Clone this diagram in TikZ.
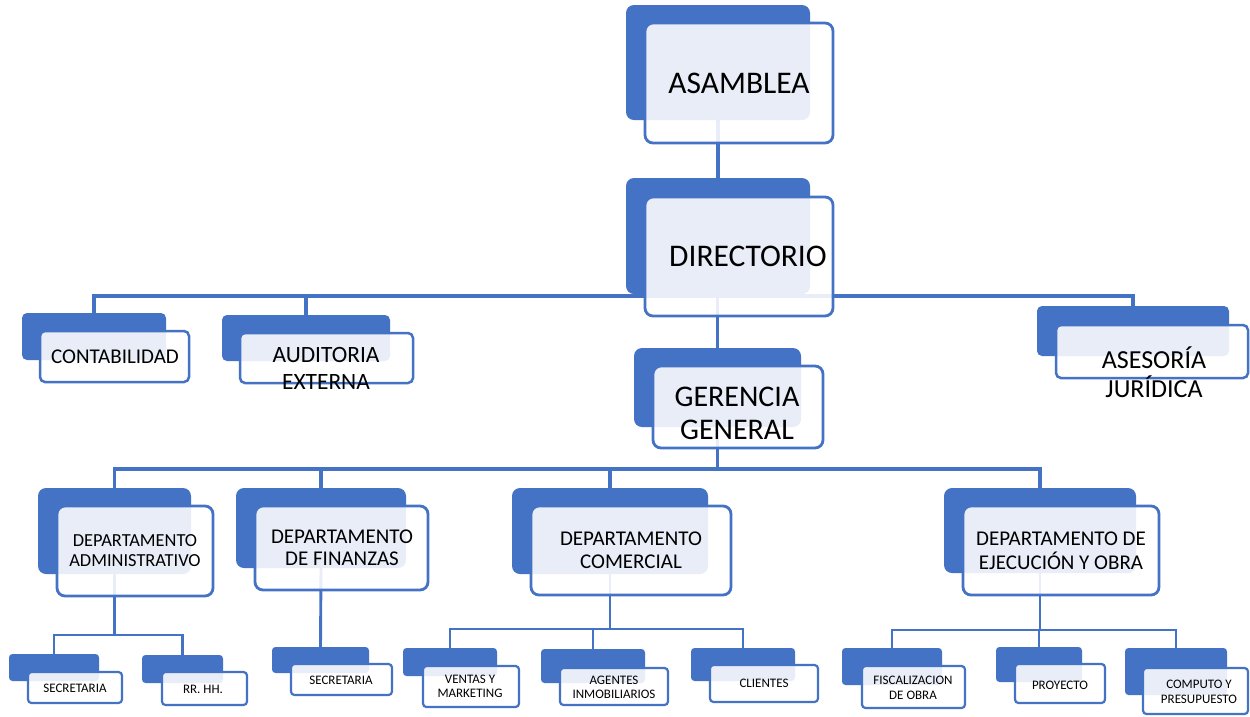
\documentclass[tikz,border=0pt]{standalone}
\usepackage{fontspec}
\setmainfont{Carlito}
\usetikzlibrary{fit,backgrounds}
\definecolor{obl}{HTML}{4472C4}
\newcommand\fs[2]{\fontsize{#1}{#2}\selectfont}
\newcommand\pair[6]{%
  \node[backbox,#6,fit={(#2) (#3)}] (#1b) {};
  \node[frontbox,#6,fit={(#4) (#5)}] (#1f) {};
}
\begin{document}
\begin{tikzpicture}[x=1pt,y=-1pt,
  backbox/.style={fill=obl,draw=none,inner sep=0pt,outer sep=0pt},
  frontbox/.style={fill=white,fill opacity=0.88,draw=obl,inner sep=0pt,outer sep=0pt},
  bigr/.style={rounded corners=8pt,line width=2.8pt},
  midr/.style={rounded corners=5pt,line width=2.5pt},
  smr/.style={rounded corners=3.5pt,line width=2.2pt},
  lbl/.style={inner sep=0pt,align=center,text=black},
  conn/.style={draw=obl,line width=3.1pt},
  sconn/.style={draw=obl,line width=2.9pt}]
\useasboundingbox (0,0) rectangle (1250,716);
% top levels
\pair{asa}{626,5}{810,120}{645,23}{833,143}{bigr}
\node[lbl,font=\fs{31.5}{34}] (asat) at (739,83) {ASAMBLEA};
\pair{dir}{626,178}{810,294}{645,197}{833,316}{bigr}
\node[lbl,font=\fs{31.5}{34}] (dirt) at (748,256) {DIRECTORIO};
\pair{ger}{634,348}{801,427}{653,366}{823,448}{bigr}
\node[lbl,font=\fs{30}{33}] (gert) at (737,413.5) {GERENCIA\\GENERAL};
% staff
\pair{con}{22,313}{166,360}{40,331}{189,382}{midr}
\node[lbl,font=\fs{21}{24}] (cont) at (115,357) {CONTABILIDAD};
\pair{aud}{222,315}{390,361}{240,333}{413,383}{midr}
\node[lbl,font=\fs{23.4}{27}] (audt) at (326,368.5) {AUDITORIA\\EXTERNA};
\pair{ase}{1037,306}{1229,356}{1056,325}{1248,378}{midr}
\node[lbl,font=\fs{26}{29}] (aset) at (1154,372.5) {ASESORÍA\\JURÍDICA};
% departments
\pair{adm}{38,488}{191,574}{57,506}{213,596}{bigr}
\node[lbl,font=\fs{18.4}{19.5}] (admt) at (135,550.5) {DEPARTAMENTO\\ADMINISTRATIVO};
\pair{fin}{236,488}{406,568}{255,506}{428,590}{bigr}
\node[lbl,font=\fs{21}{22}] (fint) at (342,548) {DEPARTAMENTO\\DE FINANZAS};
\pair{com}{512,488}{708,574}{531,506}{731,595}{bigr}
\node[lbl,font=\fs{21}{23}] (comt) at (631,550.5) {DEPARTAMENTO\\COMERCIAL};
\pair{eje}{944,488}{1136,573}{963,506}{1159,595}{bigr}
\node[lbl,font=\fs{21}{24}] (ejet) at (1061,551) {DEPARTAMENTO DE\\EJECUCIÓN Y OBRA};
% bottom level
\pair{sea}{9,654}{99,681}{28,672}{122,703}{smr}
\node[lbl,font=\fs{13}{14}] (seat) at (75,688) {SECRETARIA};
\pair{rrh}{142,655}{223,683}{162,672}{247,705}{smr}
\node[lbl,font=\fs{13}{14}] (rrht) at (203,689) {RR. HH.};
\pair{seb}{272,647}{369,673}{291,664}{392,695}{smr}
\node[lbl,font=\fs{13}{14}] (sebt) at (341,680) {SECRETARIA};
\pair{ven}{403,648}{497,676}{423,666}{519,707}{smr}
\node[lbl,font=\fs{13}{13.5}] (vent) at (470,686.5) {VENTAS Y\\MARKETING};
\pair{age}{541,649}{645,683}{560,668}{668,705}{smr}
\node[lbl,font=\fs{13}{14}] (aget) at (614,687) {AGENTES\\INMOBILIARIOS};
\pair{cli}{691,648}{795,681}{710,665}{818,702}{smr}
\node[lbl,font=\fs{13}{14}] (clit) at (764,683) {CLIENTES};
\pair{fis}{842,648}{942,685}{862,666}{965,708}{smr}
\node[lbl,font=\fs{13}{15}] (fist) at (913,687.5) {FISCALIZACION\\DE OBRA};
\pair{pro}{996,647}{1082,682}{1015,664}{1105,703}{smr}
\node[lbl,font=\fs{13}{14}] (prot) at (1060,685) {PROYECTO};
\pair{cmp}{1125,648}{1227,695}{1143,668}{1248,714}{smr}
\node[lbl,font=\fs{13}{15}] (cmpt) at (1199,691.5) {COMPUTO Y\\PRESUPUESTO};
% connectors behind
\begin{scope}[on background layer]
\fill[white] (0,0) rectangle (1250,716);
\coordinate (b1) at (717,296);
\coordinate (b2) at (717,469);
\coordinate (b3) at (114.5,635);
\coordinate (b4) at (610,629);
\coordinate (b5) at (1040,630);
\draw[conn] (asab.south) -- (dirb.north);
\draw[conn] (conb.north) |- (b1) -| (aseb.north);
\draw[conn] (audb.north) -- (audb.north |- b1);
\draw[conn] (gerb.north |- dirb.south) -- (gerb.north);
\draw[conn] (gerb.south) -- (gerb.south |- b2);
\draw[conn] (admb.north) |- (b2) -| (ejeb.north);
\draw[conn] (finb.north) -- (finb.north |- b2);
\draw[conn] (comb.north) -- (comb.north |- b2);
\draw[sconn] (admb.south) -- (b3);
\draw[sconn] (seab.north) |- (b3) -| (rrhb.north);
\draw[sconn] (finb.south) -- (sebb.north);
\draw[sconn] (comb.south) -- (b4);
\draw[sconn] (venb.north) |- (b4) -| (clib.north);
\draw[sconn] (ageb.north) -- (ageb.north |- b4);
\draw[sconn] (ejeb.south) -- (b5);
\draw[sconn] (fisb.north) |- (b5) -| (cmpb.north);
\draw[sconn] (prob.north) -- (prob.north |- b5);
\end{scope}
\end{tikzpicture}
\end{document}
